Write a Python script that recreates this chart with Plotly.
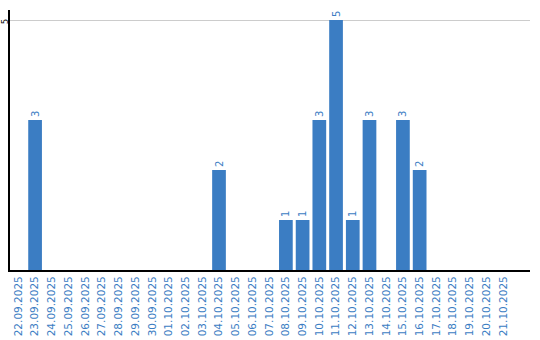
import plotly.graph_objects as go

dates = ["22.09.2025", "23.09.2025", "24.09.2025", "25.09.2025", "26.09.2025", "27.09.2025",
         "28.09.2025", "29.09.2025", "30.09.2025", "01.10.2025", "02.10.2025", "03.10.2025",
         "04.10.2025", "05.10.2025", "06.10.2025", "07.10.2025", "08.10.2025", "09.10.2025",
         "10.10.2025", "11.10.2025", "12.10.2025", "13.10.2025", "14.10.2025", "15.10.2025",
         "16.10.2025", "17.10.2025", "18.10.2025", "19.10.2025", "20.10.2025", "21.10.2025"]
counts = [0, 3, 0, 0, 0, 0, 0, 0, 0, 0, 0, 0, 2, 0, 0, 0, 1, 1, 3, 5, 1, 3, 0, 3, 2, 0, 0, 0, 0, 0]
labels = [str(v) if v else "" for v in counts]
y_ticks = [5]

blue = "#3b7dc3"
fig = go.Figure(go.Bar(
    x=dates, y=counts, text=labels, textposition="outside", textangle=-90,
    textfont=dict(family="DejaVu Sans", size=10, color=blue),
    marker=dict(color=blue, line=dict(width=0)), width=0.82, cliponaxis=False,
))
for t in y_ticks:
    fig.add_annotation(x=0, xref="paper", xanchor="center", xshift=-5, y=t, yref="y",
                       yanchor="middle", yshift=-2, text=str(t), textangle=-90, showarrow=False,
                       font=dict(family="DejaVu Sans", size=8, color="black"))
fig.update_layout(
    width=540, height=340, margin=dict(l=10, r=10, t=10, b=70),
    paper_bgcolor="white", plot_bgcolor="white", showlegend=False,
    font=dict(family="DejaVu Sans"),
    xaxis=dict(type="category", range=[-0.5, 30.6], tickangle=-90, showgrid=False,
               showline=True, linecolor="black", linewidth=2, ticks="", automargin=False,
               tickfont=dict(size=10.5, color=blue)),
    yaxis=dict(range=[0, 5.2], tickvals=y_ticks, showticklabels=False, automargin=False,
               showgrid=True, gridcolor="#cccccc", gridwidth=1, zeroline=False,
               showline=True, linecolor="black", linewidth=2, ticks=""),
)
fig.write_html("out.html")
